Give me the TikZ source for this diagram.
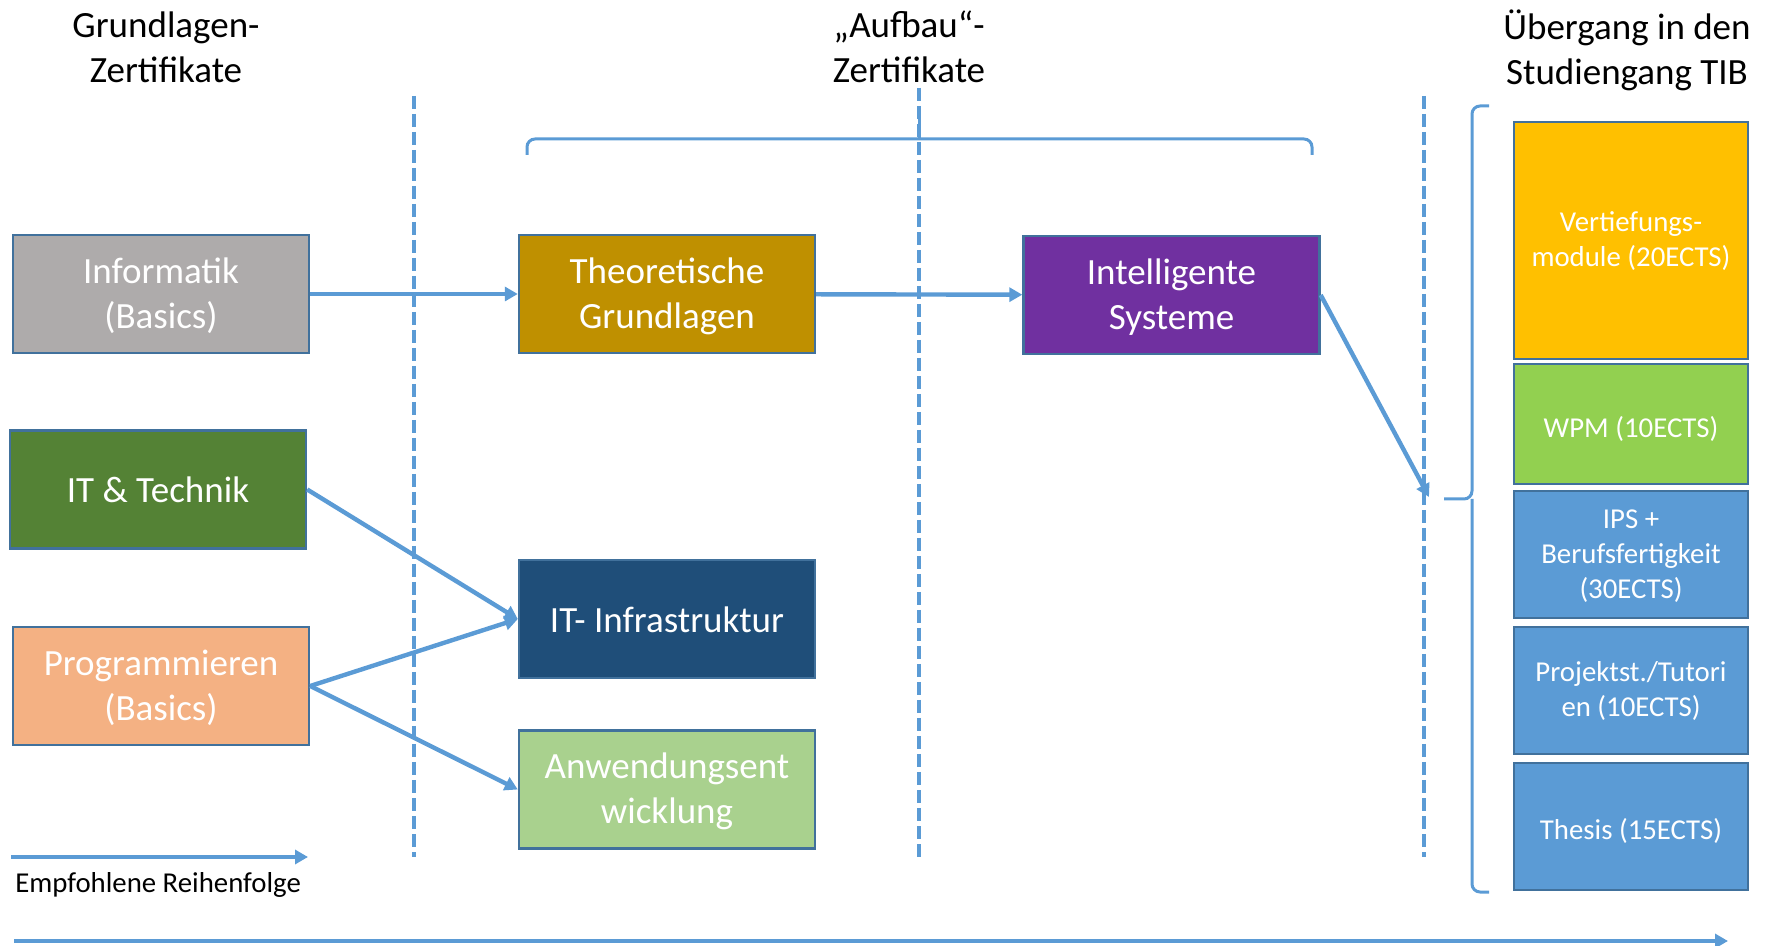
\documentclass[tikz,border=0pt]{standalone}
\usepackage{fontspec}
\setmainfont{Carlito}
\usetikzlibrary{arrows.meta}
\definecolor{lineblue}{HTML}{5B9BD5}
\definecolor{rimblue}{HTML}{41719C}
\definecolor{basegrey}{HTML}{AEABAB}
\definecolor{theogold}{HTML}{BF9000}
\definecolor{intelpurple}{HTML}{7030A0}
\definecolor{techgreen}{HTML}{548235}
\definecolor{infranavy}{HTML}{1F4E79}
\definecolor{progsalmon}{HTML}{F4B183}
\definecolor{anwgreen}{HTML}{A9D18E}
\definecolor{vertamber}{HTML}{FFC000}
\definecolor{wpmlime}{HTML}{92D050}
\begin{document}
\begin{tikzpicture}[x=0.5pt, y=-0.5pt,
	box/.style={draw=rimblue, line width=1.2pt, text=white, align=center, inner sep=0pt,
		minimum width=148pt, minimum height=59pt, font=\fontsize{18.5}{22.5}\selectfont,
		execute at begin node={\rule[-3.2pt]{0pt}{19.7pt}}},
	ects/.style={box, minimum width=117pt, minimum height=63.5pt, font=\fontsize{14.4}{17.5}\selectfont,
		execute at begin node={\rule[-2.5pt]{0pt}{14.8pt}}},
	twoline/.style={text depth=1pt},
	title/.style={align=center, inner sep=0pt, font=\fontsize{18.5}{22.5}\selectfont},
	flow/.style={draw=lineblue, line width=2.2pt, -{Triangle[length=6.5pt, width=7pt]}},
	sep/.style={draw=lineblue, line width=2.1pt, dash pattern=on 6.5pt off 2.5pt},
	brace/.style={draw=lineblue, line width=1.5pt, rounded corners=4pt}]
	\useasboundingbox (0,0) rectangle (1769,946);

	\node[title] (grund) at (166,47) {Grundlagen-\\Zertifikate};
	\node[title] (aufbau) at (909,47) {„Aufbau“-\\Zertifikate};
	\node[title] (uebergang) at (1627,50) {Übergang in den\\Studiengang TIB};

	\foreach \x/\y in {414/96, 919/88, 1424/96}
		\draw[sep] (\x,\y) -- (\x,857);

	\draw[brace] (527,155) -- (527,139) -- (1312,139) -- (1312,155);
	\draw[brace] (919,139) -- (919,110);
	\draw[brace] (1489,106) -- (1472,106) -- (1472,499) -- (1444,499);
	\draw[brace] (1472,499) -- (1472,892) -- (1489,892);

	\node[box, twoline, fill=basegrey] (info) at (161,294) {Informatik\\(Basics)};
	\node[box, fill=techgreen] (ittech) at (158,489.5) {IT \& Technik};
	\node[box, twoline, fill=progsalmon] (prog) at (161,686) {Programmieren\\(Basics)};
	\node[box, twoline, fill=theogold] (theo) at (667,294) {Theoretische\\Grundlagen};
	\node[box, fill=infranavy] (infra) at (667,619) {IT- Infrastruktur};
	\node[box, twoline, fill=anwgreen] (anw) at (667,789.5) {Anwendungsent\\wicklung};
	\node[box, twoline, fill=intelpurple] (intel) at (1171.5,295) {Intelligente\\Systeme};

	\node[ects, fill=vertamber, minimum height=118.5pt, text depth=1.3pt] (vert) at (1631,240.5) {Vertiefungs-\\module (20ECTS)};
	\node[ects, fill=wpmlime, minimum height=60pt] (wpm) at (1631,424) {WPM (10ECTS)};
	\node[ects, fill=lineblue, text depth=0pt] (ips) at (1631,554.5) {IPS +\\Berufsfertigkeit\\(30ECTS)};
	\node[ects, fill=lineblue, text depth=1.3pt] (proj) at (1631,690.5) {Projektst./Tutori\\en (10ECTS)};
	\node[ects, fill=lineblue] (thesis) at (1631,826.5) {Thesis (15ECTS)};

	\coordinate (join) at (1429,497);
	\draw[flow] (info) -- (theo);
	\draw[flow] (theo) -- (intel);
	\draw[flow] (intel.east) -- (join);
	\draw[flow] (ittech.east) -- (infra.west);
	\draw[flow] (prog.east) -- (infra.west);
	\draw[flow] (prog.east) -- (anw.west);

	\coordinate (legfrom) at (11,857);
	\coordinate (legto) at (308,857);
	\draw[flow] (legfrom) -- (legto);
	\node[anchor=west, inner sep=0pt, font=\fontsize{14.4}{17.5}\selectfont] (legend) at (15,885) {Empfohlene Reihenfolge};

	\coordinate (timefrom) at (14,941);
	\coordinate (timeto) at (1728,941);
	\draw[flow] (timefrom) -- (timeto);
\end{tikzpicture}
\end{document}
